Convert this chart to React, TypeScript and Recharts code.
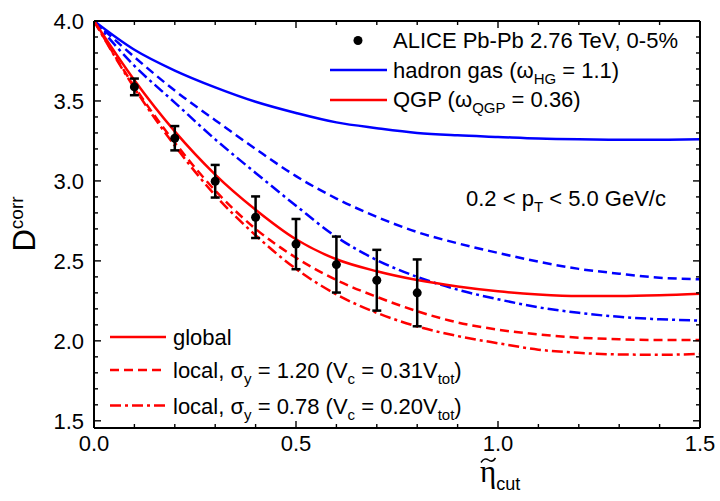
import { ComposedChart, Line, Scatter, ErrorBar, XAxis, YAxis } from "recharts";

// eta_cut grid of the model curves
const etaCut = [0, 0.1, 0.2, 0.3, 0.4, 0.5, 0.6, 0.7, 0.8, 0.9, 1.0, 1.1, 1.2, 1.3, 1.4, 1.5];

// hadron gas (blue)
const hgGlobal = [4.0, 3.82, 3.69, 3.585, 3.495, 3.425, 3.366, 3.33, 3.30, 3.285, 3.275, 3.265, 3.26, 3.258, 3.258, 3.26];
const hgLocal120 = [4.0, 3.775, 3.565, 3.38, 3.2, 3.03, 2.89, 2.775, 2.68, 2.61, 2.55, 2.495, 2.45, 2.42, 2.395, 2.385];
const hgLocal078 = [4.0, 3.72, 3.49, 3.26, 3.05, 2.845, 2.65, 2.505, 2.4, 2.32, 2.26, 2.21, 2.175, 2.15, 2.135, 2.127];

// QGP (red)
const qgpGlobal = [4.0, 3.63, 3.31, 3.04, 2.82, 2.635, 2.51, 2.435, 2.38, 2.34, 2.31, 2.29, 2.28, 2.28, 2.285, 2.295];
const qgpLocal120 = [4.0, 3.59, 3.24, 2.94, 2.7, 2.52, 2.38, 2.275, 2.185, 2.115, 2.07, 2.04, 2.02, 2.01, 2.005, 2.005];
const qgpLocal078 = [4.0, 3.58, 3.22, 2.91, 2.66, 2.45, 2.29, 2.175, 2.09, 2.03, 1.985, 1.945, 1.925, 1.915, 1.913, 1.918];

// ALICE Pb-Pb 2.76 TeV, 0-5%
const aliceEta = [0.1, 0.2, 0.3, 0.4, 0.5, 0.6, 0.7, 0.8];
const aliceD = [3.588, 3.267, 2.998, 2.773, 2.605, 2.477, 2.379, 2.3];
const aliceErr = [0.052, 0.076, 0.102, 0.13, 0.157, 0.175, 0.19, 0.209];

const xTicks = [0, 0.1, 0.2, 0.3, 0.4, 0.5, 0.6, 0.7, 0.8, 0.9, 1.0, 1.1, 1.2, 1.3, 1.4, 1.5];
const xMajor = [0, 0.5, 1.0, 1.5];
const yTicks = [1.5, 1.6, 1.7, 1.8, 1.9, 2.0, 2.1, 2.2, 2.3, 2.4, 2.5, 2.6, 2.7, 2.8, 2.9, 3.0, 3.1, 3.2, 3.3, 3.4, 3.5, 3.6, 3.7, 3.8, 3.9, 4.0];
const yMajor = [1.5, 2.0, 2.5, 3.0, 3.5, 4.0];

const curveRows = etaCut.map((x, i) => ({
  x,
  hgGlobal: hgGlobal[i],
  hgLocal120: hgLocal120[i],
  hgLocal078: hgLocal078[i],
  qgpGlobal: qgpGlobal[i],
  qgpLocal120: qgpLocal120[i],
  qgpLocal078: qgpLocal078[i],
}));

const aliceRows = aliceEta.map((x, i) => ({ x, d: aliceD[i], err: aliceErr[i] }));

const BLUE = "#0000ff";
const RED = "#ff0000";
const SANS = "'Liberation Sans', Arial, Helvetica, sans-serif";
const SERIF = "'Liberation Serif', 'DejaVu Serif', serif";
const DASH = "9 5";
const DASHDOT = "11 4 3 4";

const isMajor = (v: number, majors: number[]) => majors.some((m) => Math.abs(m - v) < 1e-6);

function BottomTick(props: any) {
  const { x, y, payload } = props;
  const major = isMajor(payload.value, xMajor);
  return (
    <g>
      <line x1={x} x2={x} y1={y} y2={y - (major ? 7 : 4)} stroke="#000" strokeWidth={1.4} />
      {major && (
        <text x={x} y={y + 23} textAnchor="middle" fontFamily={SANS} fontSize={22} fill="#000">
          {payload.value.toFixed(1)}
        </text>
      )}
    </g>
  );
}

function TopTick(props: any) {
  const { x, y, payload } = props;
  const major = isMajor(payload.value, xMajor);
  return <line x1={x} x2={x} y1={y} y2={y + (major ? 7 : 4)} stroke="#000" strokeWidth={1.4} />;
}

function LeftTick(props: any) {
  const { x, y, payload } = props;
  const major = isMajor(payload.value, yMajor);
  return (
    <g>
      <line x1={x} x2={x + (major ? 7 : 4)} y1={y} y2={y} stroke="#000" strokeWidth={1.4} />
      {major && (
        <text x={x - 10} y={y + 8} textAnchor="end" fontFamily={SANS} fontSize={22} fill="#000">
          {payload.value.toFixed(1)}
        </text>
      )}
    </g>
  );
}

function RightTick(props: any) {
  const { x, y, payload } = props;
  const major = isMajor(payload.value, yMajor);
  return <line x1={x} x2={x - (major ? 7 : 4)} y1={y} y2={y} stroke="#000" strokeWidth={1.4} />;
}

const renderDot = (p: any) => <circle cx={p.cx} cy={p.cy} r={4.5} fill="#000" />;

const axisLine = { stroke: "#000", strokeWidth: 2 };

export default function App() {
  return (
    <div style={{ position: "absolute", left: 0, top: 0, width: 720, height: 501, background: "#fff" }}>
      <ComposedChart width={720} height={501} data={curveRows} margin={{ top: 20, right: 19, bottom: 72, left: 93 }}>
        <XAxis
          dataKey="x"
          type="number"
          domain={[0, 1.5]}
          allowDataOverflow
          ticks={xTicks}
          interval={0}
          height={1}
          tickSize={0}
          tickMargin={0}
          tickLine={false}
          axisLine={axisLine}
          tick={<BottomTick />}
        />
        <XAxis
          xAxisId="top"
          orientation="top"
          dataKey="x"
          type="number"
          domain={[0, 1.5]}
          allowDataOverflow
          ticks={xTicks}
          interval={0}
          height={1}
          tickSize={0}
          tickMargin={0}
          tickLine={false}
          axisLine={axisLine}
          tick={<TopTick />}
        />
        <YAxis
          type="number"
          domain={[1.455, 4.0]}
          allowDataOverflow
          ticks={yTicks}
          interval={0}
          width={1}
          tickSize={0}
          tickMargin={0}
          tickLine={false}
          axisLine={axisLine}
          tick={<LeftTick />}
        />
        <YAxis
          yAxisId="right"
          orientation="right"
          type="number"
          domain={[1.455, 4.0]}
          allowDataOverflow
          ticks={yTicks}
          interval={0}
          width={1}
          tickSize={0}
          tickMargin={0}
          tickLine={false}
          axisLine={axisLine}
          tick={<RightTick />}
        />
        <Line type="monotone" dataKey="hgGlobal" stroke={BLUE} strokeWidth={2.5} dot={false} isAnimationActive={false} />
        <Line type="monotone" dataKey="hgLocal120" stroke={BLUE} strokeWidth={2.5} strokeDasharray={DASH} dot={false} isAnimationActive={false} />
        <Line type="monotone" dataKey="hgLocal078" stroke={BLUE} strokeWidth={2.5} strokeDasharray={DASHDOT} dot={false} isAnimationActive={false} />
        <Line type="monotone" dataKey="qgpGlobal" stroke={RED} strokeWidth={2.5} dot={false} isAnimationActive={false} />
        <Line type="monotone" dataKey="qgpLocal120" stroke={RED} strokeWidth={2.5} strokeDasharray={DASH} dot={false} isAnimationActive={false} />
        <Line type="monotone" dataKey="qgpLocal078" stroke={RED} strokeWidth={2.5} strokeDasharray={DASHDOT} dot={false} isAnimationActive={false} />
        <Scatter data={aliceRows} dataKey="d" shape={renderDot} isAnimationActive={false}>
          <ErrorBar dataKey="err" direction="y" width={4.5} stroke="#000" strokeWidth={2.5} />
        </Scatter>
      </ComposedChart>

      <svg width={720} height={501} style={{ position: "absolute", left: 0, top: 0, pointerEvents: "none" }}>
        <g fontFamily={SANS} fontSize={22} fill="#000">
          {/* top-right legend */}
          <circle cx={358} cy={40.5} r={4.5} fill="#000" />
          <text x={393} y={48}>ALICE Pb-Pb 2.76 TeV, 0-5%</text>
          <line x1={330} x2={387} y1={70} y2={70} stroke={BLUE} strokeWidth={2.5} />
          <text x={393} y={77.5}>
            hadron gas (ω<tspan fontSize={15} dy={6}>HG</tspan>
            <tspan dy={-6}> = 1.1)</tspan>
          </text>
          <line x1={330} x2={387} y1={100} y2={100} stroke={RED} strokeWidth={2.5} />
          <text x={393} y={107}>
            QGP (ω<tspan fontSize={15} dy={6}>QGP</tspan>
            <tspan dy={-6}> = 0.36)</tspan>
          </text>

          <text x={466} y={206}>
            0.2 &lt; p<tspan fontSize={15} dy={6}>T</tspan>
            <tspan dy={-6}> &lt; 5.0 GeV/c</tspan>
          </text>

          {/* bottom-left legend */}
          <line x1={110} x2={166} y1={337} y2={337} stroke={RED} strokeWidth={2.5} />
          <text x={173} y={345}>global</text>
          <line x1={110} x2={166} y1={370} y2={370} stroke={RED} strokeWidth={2.5} strokeDasharray={DASH} />
          <text x={173} y={378}>
            local, σ<tspan fontSize={15} dy={6}>y</tspan>
            <tspan dy={-6}> = 1.20 (V</tspan>
            <tspan fontSize={15} dy={6}>c</tspan>
            <tspan dy={-6}> = 0.31V</tspan>
            <tspan fontSize={15} dy={6}>tot</tspan>
            <tspan dy={-6}>)</tspan>
          </text>
          <line x1={110} x2={166} y1={405.5} y2={405.5} stroke={RED} strokeWidth={2.5} strokeDasharray={DASHDOT} />
          <text x={173} y={414}>
            local, σ<tspan fontSize={15} dy={6}>y</tspan>
            <tspan dy={-6}> = 0.78 (V</tspan>
            <tspan fontSize={15} dy={6}>c</tspan>
            <tspan dy={-6}> = 0.20V</tspan>
            <tspan fontSize={15} dy={6}>tot</tspan>
            <tspan dy={-6}>)</tspan>
          </text>
        </g>

        {/* axis titles */}
        <text transform="rotate(-90)" x={-224} y={35} textAnchor="middle" fontFamily={SANS} fontSize={31} fill="#000">
          D<tspan fontSize={19} dy={-12}>corr</tspan>
        </text>
        <text x={480} y={482} fontFamily={SERIF} fontSize={31} fill="#000">
          η<tspan fontFamily={SANS} fontSize={18} dy={8}>cut</tspan>
        </text>
        {/* tilde over the eta */}
        <path d="M481 462.5 Q484.5 457 488.5 460 T495.5 458" fill="none" stroke="#000" strokeWidth={1.5} />
      </svg>
    </div>
  );
}
